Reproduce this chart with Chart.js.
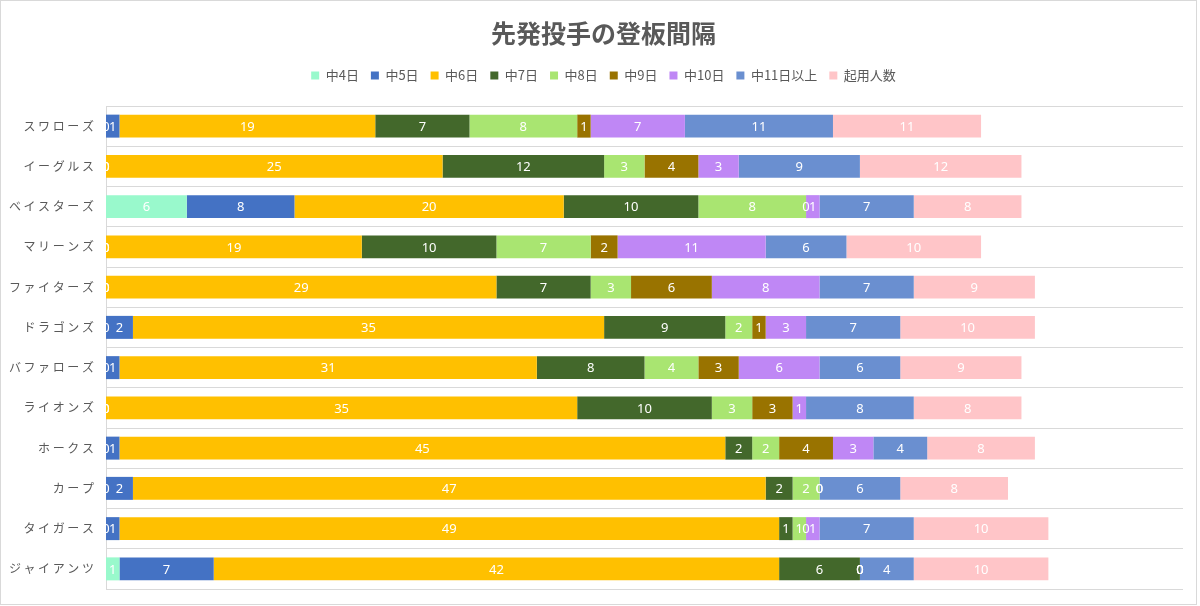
<!DOCTYPE html>
<html>
<head>
<meta charset="utf-8">
<script src="https://cdn.jsdelivr.net/npm/chart.js@4/dist/chart.umd.min.js"></script>
<style>
  html, body { margin: 0; padding: 0; background: #fff; }
  #wrap { width: 1200px; height: 606px; }
</style>
</head>
<body>
<div id="wrap"><canvas id="chart"></canvas></div>
<script>
'use strict';

const teams = ['スワローズ', 'イーグルス', 'ベイスターズ', 'マリーンズ', 'ファイターズ', 'ドラゴンズ',
  'バファローズ', 'ライオンズ', 'ホークス', 'カープ', 'タイガース', 'ジャイアンツ'];

const seriesNames = ['中4日', '中5日', '中6日', '中7日', '中8日', '中9日', '中10日', '中11日以上', '起用人数'];

const rest4 = [0, 0, 6, 0, 0, 0, 0, 0, 0, 0, 0, 1];
const rest5 = [1, 0, 8, 0, 0, 2, 1, 0, 1, 2, 1, 7];
const rest6 = [19, 25, 20, 19, 29, 35, 31, 35, 45, 47, 49, 42];
const rest7 = [7, 12, 10, 10, 7, 9, 8, 10, 2, 2, 1, 6];
const rest8 = [8, 3, 8, 7, 3, 2, 4, 3, 2, 2, 1, 0];
const rest9 = [1, 4, 0, 2, 6, 1, 3, 3, 4, 0, 0, 0];
const rest10 = [7, 3, 1, 11, 8, 3, 6, 1, 3, 0, 1, 0];
const rest11 = [11, 9, 7, 6, 7, 7, 6, 8, 4, 6, 7, 4];
const pitchers = [11, 12, 8, 10, 9, 10, 9, 8, 8, 8, 10, 10];

const allSeries = [rest4, rest5, rest6, rest7, rest8, rest9, rest10, rest11, pitchers];
const colors = ['#99F9CC', '#4472C4', '#FFC000', '#43682B', '#A9E571', '#997300', '#BF87F5', '#6A8FD0', '#FFC5C8'];

const textGray = '#595959';

const datasets = allSeries.map(function (vals, i) {
  return {
    label: seriesNames[i],
    data: vals,
    backgroundColor: colors[i],
    borderWidth: 0,
    barPercentage: 0.571,
    categoryPercentage: 1
  };
});

// values in the middle of each piece, clipped to the plot like in excel
const valueLabels = {
  id: 'valueLabels',
  afterDatasetsDraw(chart) {
    const ctx = chart.ctx;
    const area = chart.chartArea;
    ctx.save();
    ctx.beginPath();
    ctx.rect(area.left, area.top, area.right - area.left, area.bottom - area.top);
    ctx.clip();
    ctx.font = '13px "Noto Sans", "Open Sans", sans-serif';
    ctx.fillStyle = '#ffffff';
    ctx.textAlign = 'center';
    ctx.textBaseline = 'middle';
    chart.data.datasets.forEach(function (ds, di) {
      const meta = chart.getDatasetMeta(di);
      meta.data.forEach(function (bar, i) {
        const p = bar.getProps(['x', 'y', 'base'], true);
        ctx.fillText(String(ds.data[i]), (p.x + p.base) / 2, p.y + 1);
      });
    });
    ctx.restore();
  }
};

// team names with the wide letter spacing of the original
const teamLabels = {
  id: 'teamLabels',
  afterDraw(chart) {
    const ctx = chart.ctx;
    const yScale = chart.scales.y;
    ctx.save();
    ctx.font = '12px "Noto Sans CJK JP", sans-serif';
    ctx.letterSpacing = '2.6px';
    ctx.fillStyle = textGray;
    ctx.textAlign = 'right';
    ctx.textBaseline = 'middle';
    teams.forEach(function (name, i) {
      ctx.fillText(name, 96.5, yScale.getPixelForValue(i));
    });
    ctx.restore();
  }
};

const frame = {
  id: 'frame',
  beforeDraw(chart) {
    const ctx = chart.ctx;
    ctx.save();
    ctx.fillStyle = '#ffffff';
    ctx.fillRect(0, 0, chart.width, chart.height);
    ctx.strokeStyle = '#d9d9d9';
    ctx.lineWidth = 1;
    ctx.strokeRect(0.5, 0.5, 1196, 604);
    ctx.restore();
  }
};

new Chart(document.getElementById('chart'), {
  type: 'bar',
  data: {
    labels: teams,
    datasets: datasets
  },
  options: {
    indexAxis: 'y',
    responsive: true,
    maintainAspectRatio: false,
    animation: false,
    layout: {
      padding: { left: 24, right: 17, top: 0, bottom: 17 }
    },
    scales: {
      x: {
        stacked: true,
        position: 'top',
        min: 0,
        max: 80,
        grid: { display: false },
        border: { display: false },
        ticks: { display: false },
        afterFit: function (scale) {
          scale.height = 14;
        }
      },
      y: {
        stacked: true,
        grid: {
          color: '#d9d9d9',
          drawTicks: false,
          offset: true
        },
        border: { color: '#d9d9d9' },
        ticks: { display: false },
        afterFit: function (scale) {
          scale.width = 82;
        }
      }
    },
    plugins: {
      title: {
        display: true,
        text: '先発投手の登板間隔',
        color: textGray,
        font: { size: 25, weight: 'bold', family: '"Noto Sans CJK JP", sans-serif' },
        padding: { top: 18, bottom: 9 }
      },
      legend: {
        position: 'top',
        labels: {
          color: textGray,
          boxWidth: 8,
          boxHeight: 8,
          padding: 12,
          font: { size: 13, family: '"Noto Sans CJK JP", sans-serif' }
        }
      },
      tooltip: { enabled: false }
    }
  },
  plugins: [frame, valueLabels, teamLabels]
});
</script>
</body>
</html>
